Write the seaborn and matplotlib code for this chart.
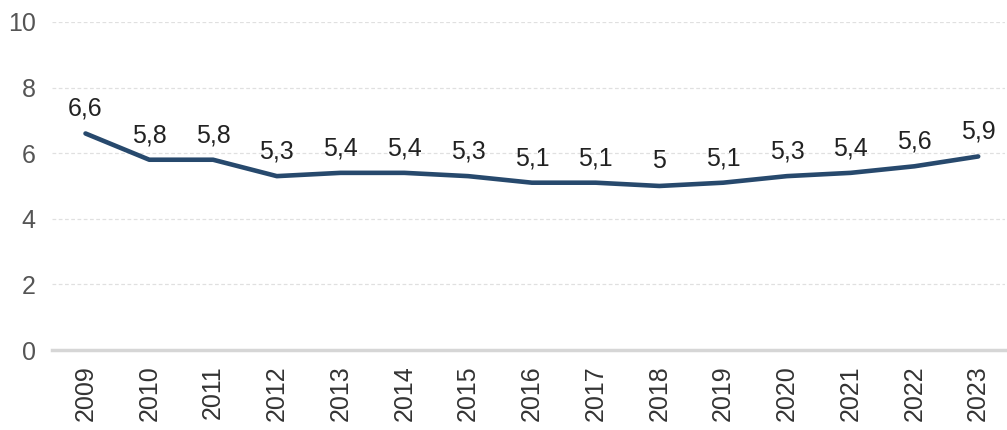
import matplotlib
matplotlib.use('Agg')
import matplotlib.pyplot as plt
import seaborn as sns
import pandas as pd

years = [2009, 2010, 2011, 2012, 2013, 2014, 2015, 2016, 2017, 2018, 2019, 2020, 2021, 2022, 2023]
values = [6.6, 5.8, 5.8, 5.3, 5.4, 5.4, 5.3, 5.1, 5.1, 5.0, 5.1, 5.3, 5.4, 5.6, 5.9]
y_ticks = [0, 2, 4, 6, 8, 10]

df = pd.DataFrame({'year': years, 'value': values})

sns.set_style('white')
plt.rcParams['font.family'] = ['Liberation Sans', 'DejaVu Sans']

fig = plt.figure(figsize=(10.07, 4.30), dpi=100)
ax = fig.add_axes([0.052, 0.186, 0.946, 0.763])

sns.lineplot(data=df, x='year', y='value', ax=ax, color='#27496d', linewidth=3.3)

# 数值标签（逗号作小数点）
for x, v in zip(years, values):
    txt = f'{v:g}'.replace('.', ',')
    ax.annotate(txt, (x, v), xytext=(0, 9), textcoords='offset points',
                ha='center', va='bottom', fontsize=18, color='#222222')

ax.set_xlim(2008.48, 2023.42)
ax.set_ylim(0, 10)
ax.set_yticks(y_ticks)
ax.set_xticks(years)
ax.set_xticklabels([str(y) for y in years], rotation=90)
ax.tick_params(axis='y', length=0, labelsize=18, labelcolor='#555555', pad=12)
ax.tick_params(axis='x', length=7, width=1.2, color='#cccccc', labelsize=18,
               labelcolor='#333333', pad=4)

for t in y_ticks[1:]:
    ax.axhline(t, color='#e0e0e0', linestyle=(0, (3, 2)), linewidth=0.9, zorder=0)

for s in ['top', 'right', 'left']:
    ax.spines[s].set_visible(False)
ax.spines['bottom'].set_color('#d6d6d6')
ax.spines['bottom'].set_linewidth(2.5)

ax.set_xlabel('')
ax.set_ylabel('')

plt.savefig('out.png', dpi=100)
plt.close()
